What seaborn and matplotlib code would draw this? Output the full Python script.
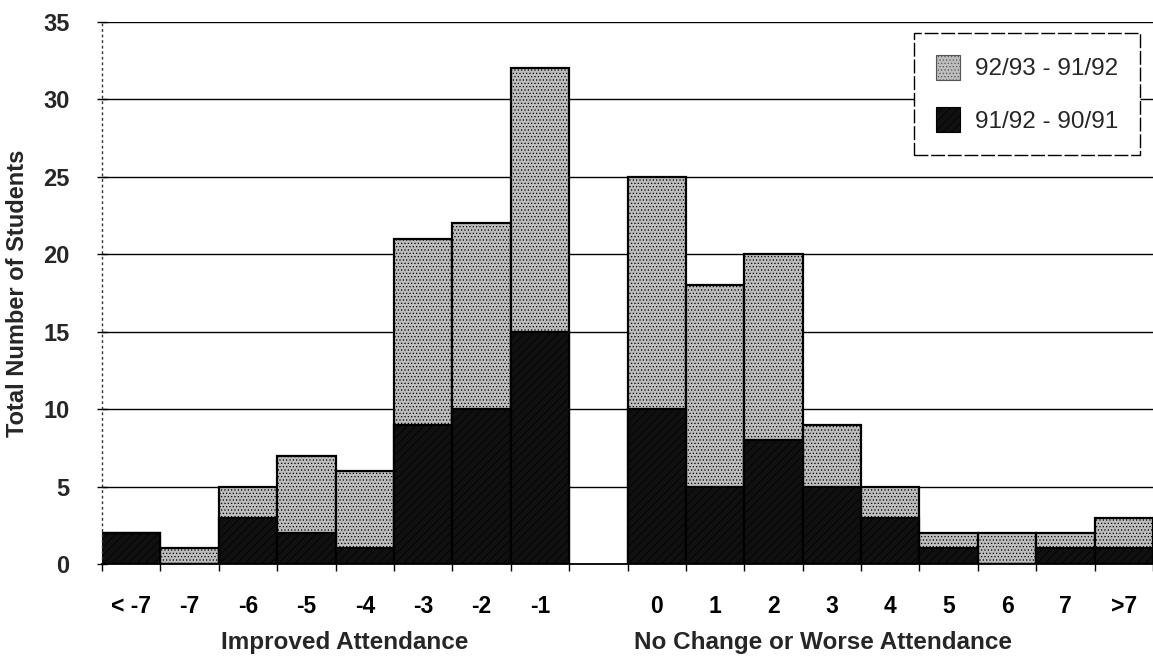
import numpy as np
import pandas as pd
import matplotlib
matplotlib.use("Agg")
import matplotlib.pyplot as plt
from matplotlib.ticker import FixedLocator, MultipleLocator
from matplotlib.patches import Patch
import seaborn as sns

# Change in days absent, grouped as improved vs. unchanged/worse
improved_cats = ["< -7", "-7", "-6", "-5", "-4", "-3", "-2", "-1"]
worse_cats = ["0", "1", "2", "3", "4", "5", "6", "7", ">7"]
categories = improved_cats + worse_cats

# Number of students per change bucket
change_9192_9091 = [2, 0, 3, 2, 1, 9, 10, 15, 10, 5, 8, 5, 3, 1, 0, 1, 1]
change_9293_9192 = [0, 1, 2, 5, 5, 12, 12, 17, 15, 13, 12, 4, 2, 1, 2, 1, 2]

series_labels = ["92/93 - 91/92", "91/92 - 90/91"]
group_labels = ["Improved Attendance", "No Change or Worse Attendance"]

sns.set_theme(style="white")
plt.rcParams["font.family"] = ["Liberation Sans", "DejaVu Sans"]
plt.rcParams["hatch.linewidth"] = 0.5

df = pd.DataFrame({
    "change": categories,
    "lower": change_9192_9091,
    "upper": change_9293_9192,
})
df["total"] = df["lower"] + df["upper"]

# an empty slot separates the two groups
gap = " "
order = improved_cats + [gap] + worse_cats

fig = plt.figure(figsize=(11.53, 6.57), dpi=100)
ax = fig.add_axes([0.0885, 0.1416, 0.9115, 0.825])

light = "#bdbdbd"
dark = "#101010"

sns.barplot(data=df, x="change", y="total", order=order, width=1.0,
            color=light, saturation=1, edgecolor="black", linewidth=1.6,
            errorbar=None, ax=ax)
n_upper = len(ax.patches)
for p in ax.patches:
    p.set_hatch(".....")

sns.barplot(data=df, x="change", y="lower", order=order, width=1.0,
            color=dark, saturation=1, edgecolor="black", linewidth=1.6,
            errorbar=None, ax=ax)
for p in ax.patches[n_upper:]:
    p.set_hatch("////")

ax.set_xlim(-0.5, len(order) - 0.5)
ax.set_ylim(0, 35)
ax.yaxis.set_major_locator(MultipleLocator(5))
ax.yaxis.grid(True, color="black", linewidth=1.0)
ax.xaxis.grid(False)
ax.set_axisbelow(True)

for side in ("top", "right"):
    ax.spines[side].set_visible(False)
ax.spines["left"].set_linestyle((0, (1, 3)))
ax.spines["left"].set_color("#333333")
ax.spines["left"].set_linewidth(1.0)
ax.spines["bottom"].set_color("black")
ax.spines["bottom"].set_linewidth(1.3)

ax.set_xlabel("")
ax.set_ylabel("Total Number of Students", fontsize=17, fontweight="bold",
              labelpad=10)

ax.tick_params(axis="x", which="major", length=0, pad=22,
               labelsize=16.5, colors="black")
ax.xaxis.set_minor_locator(FixedLocator(np.arange(-0.5, len(order), 1.0)))
ax.tick_params(axis="x", which="minor", length=5, width=1,
               direction="out", color="black", bottom=True)
ax.tick_params(axis="y", which="major", length=7, width=1,
               direction="inout", color="black", left=True,
               labelsize=17, pad=20)
for lab in ax.get_xticklabels() + ax.get_yticklabels():
    lab.set_fontweight("bold")

ax.text(3.66, -0.145, group_labels[0], transform=ax.get_xaxis_transform(),
        ha="center", va="center", fontsize=17.5, fontweight="bold")
ax.text(11.85, -0.145, group_labels[1], transform=ax.get_xaxis_transform(),
        ha="center", va="center", fontsize=17.5, fontweight="bold")

handles = [
    Patch(facecolor=light, edgecolor="#555555", hatch=".....", linewidth=0.8),
    Patch(facecolor=dark, edgecolor="black", hatch="////", linewidth=0.8),
]
leg = ax.legend(handles, series_labels, loc="upper right",
                bbox_to_anchor=(0.9875, 0.98), fontsize=17.5,
                frameon=True, fancybox=False, handlelength=1.0,
                handleheight=1.2, handletextpad=0.6, labelspacing=1.1,
                borderpad=0.9, borderaxespad=0)
frame = leg.get_frame()
frame.set_edgecolor("black")
frame.set_linewidth(1.0)
frame.set_linestyle((0, (10, 2)))
frame.set_facecolor("white")
frame.set_alpha(1)

fig.savefig("out.png", dpi=100)
